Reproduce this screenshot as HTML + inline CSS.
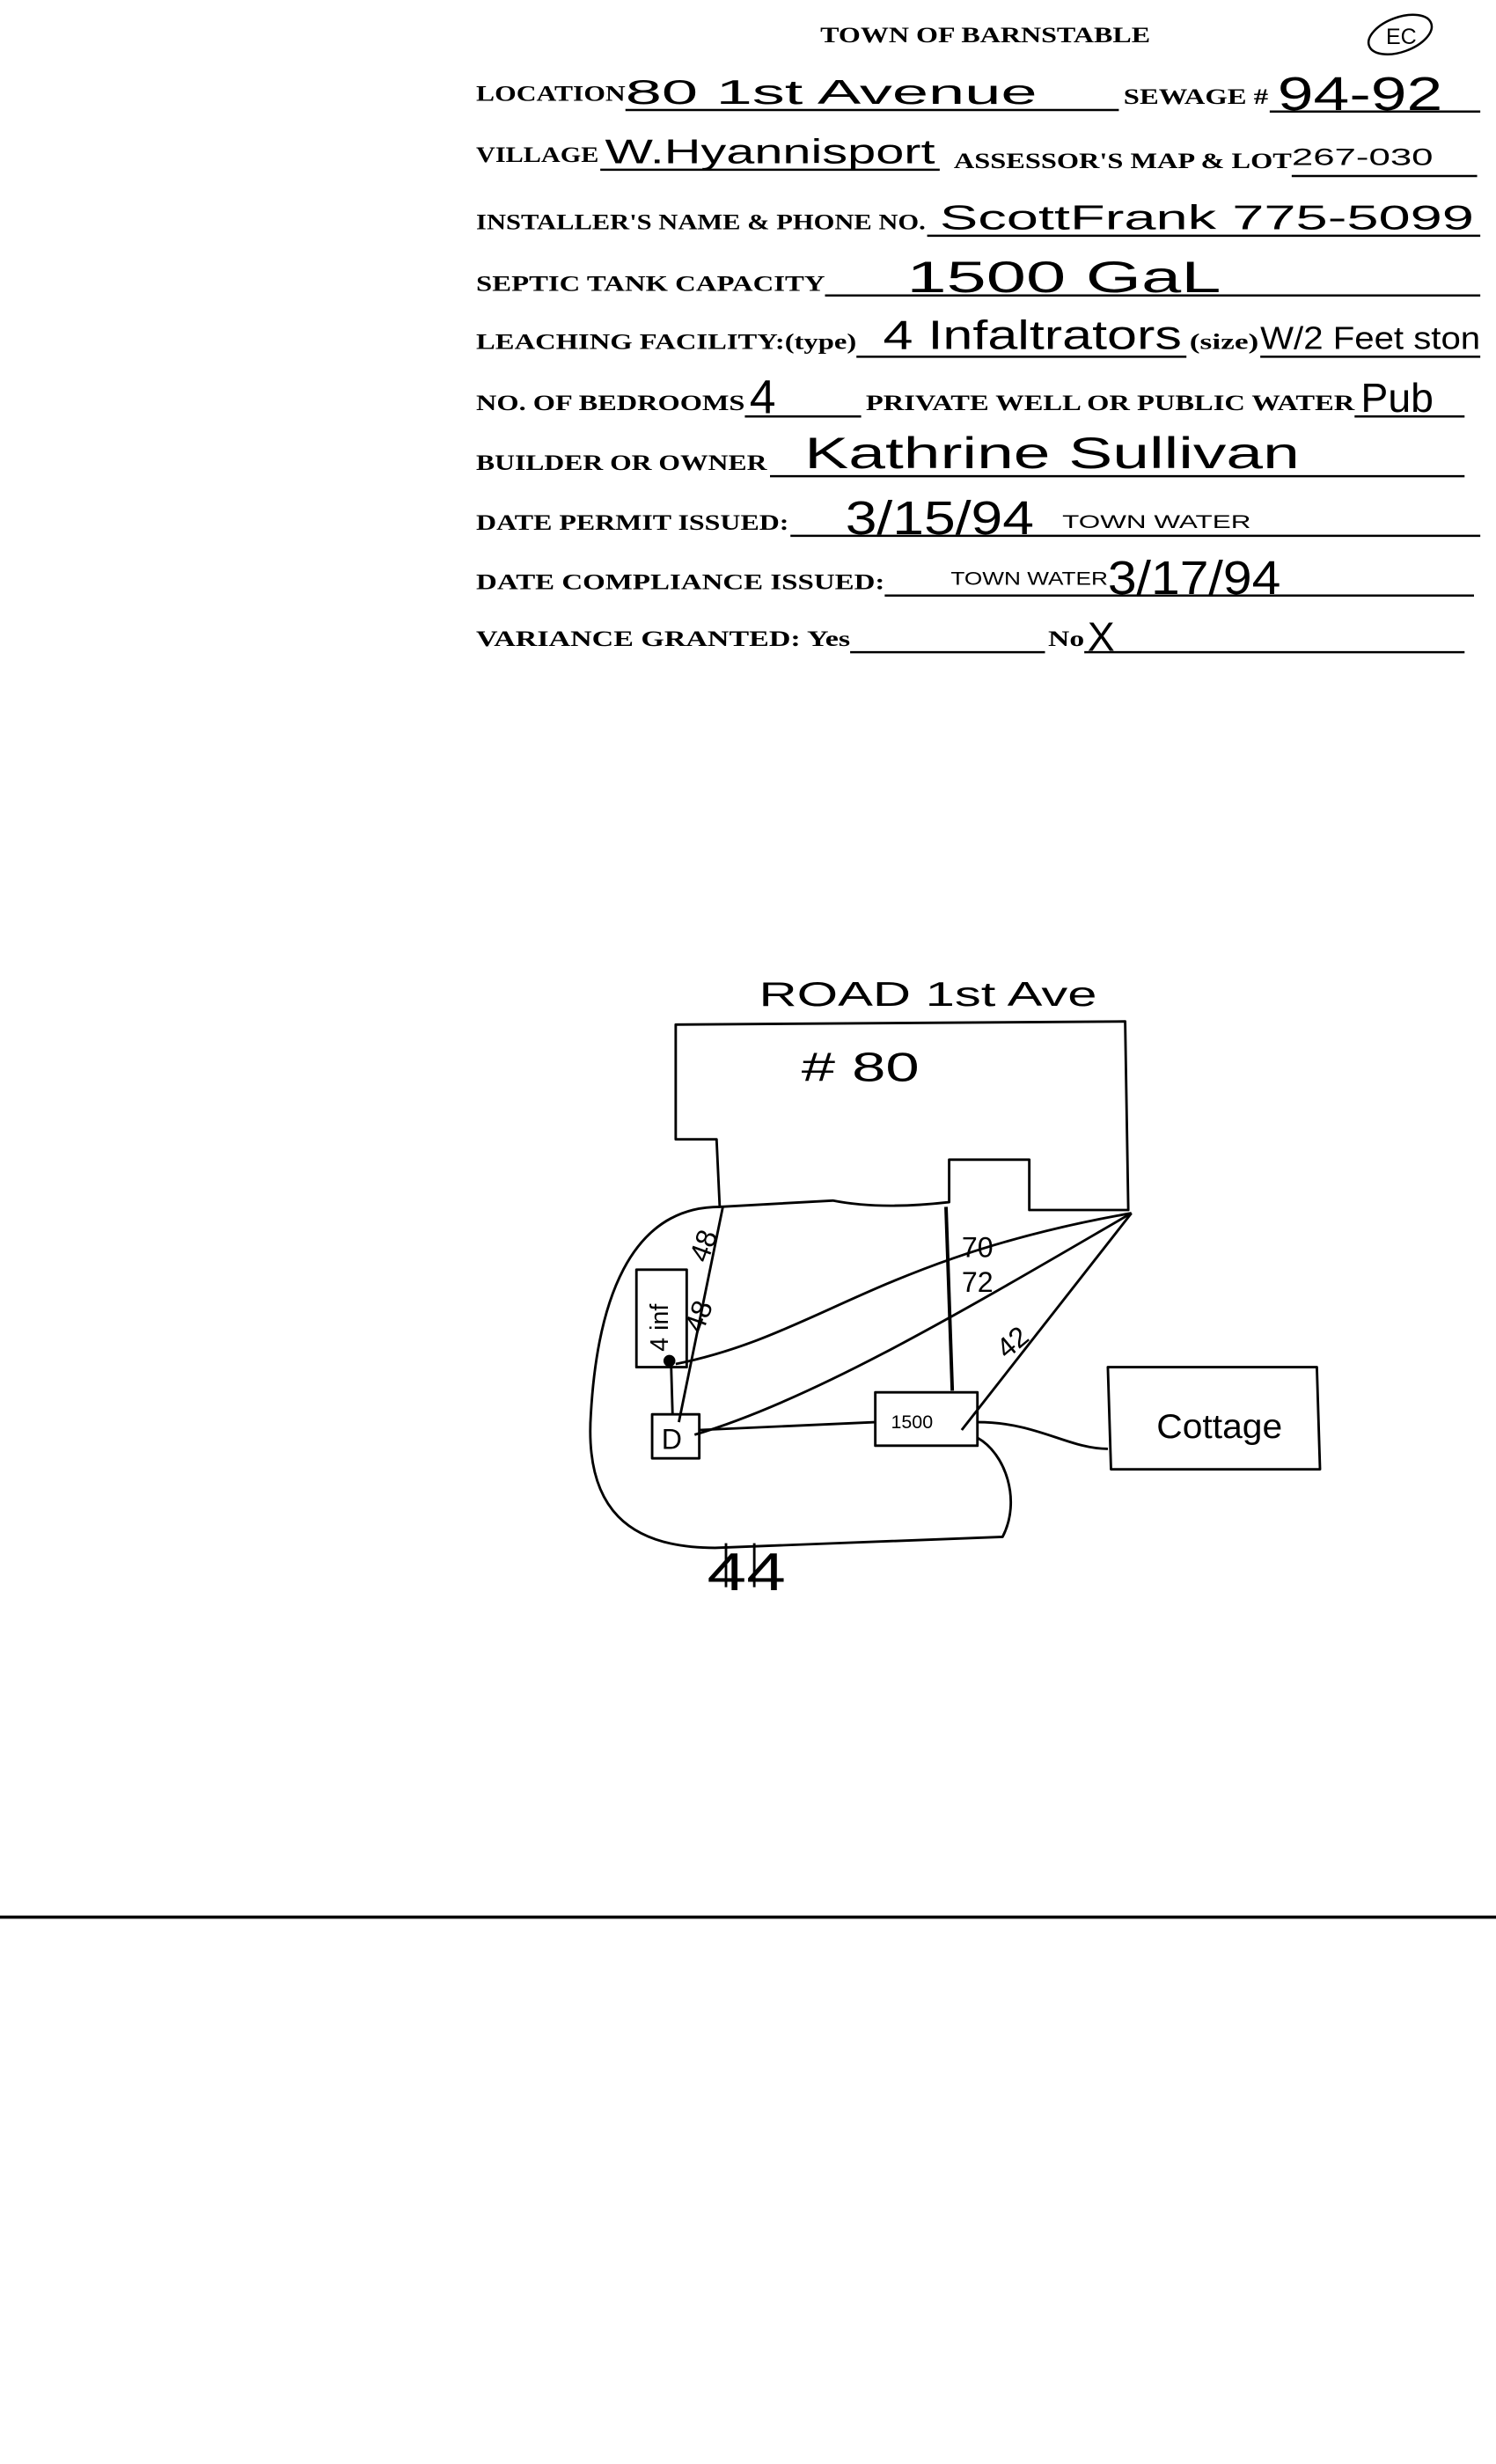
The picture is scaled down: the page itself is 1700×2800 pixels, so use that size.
<!DOCTYPE html>
<html><head><meta charset="utf-8"><style>
html,body{margin:0;padding:0;background:#fff;}
svg{display:block;}
.l{font-family:"Liberation Serif",serif;font-weight:bold;font-size:14px;fill:#000;}
.h{font-family:"Liberation Sans",sans-serif;fill:#000;}
</style></head><body>
<svg width="1700" height="2800" viewBox="0 0 952 1568" preserveAspectRatio="none" xmlns="http://www.w3.org/2000/svg">
<g class="l">
<text x="522" y="27" textLength="210" lengthAdjust="spacingAndGlyphs">TOWN OF BARNSTABLE</text>
<text x="303" y="64" textLength="95" lengthAdjust="spacingAndGlyphs">LOCATION</text>
<text x="715" y="66" textLength="92" lengthAdjust="spacingAndGlyphs">SEWAGE #</text>
<text x="303" y="103" textLength="78" lengthAdjust="spacingAndGlyphs">VILLAGE</text>
<text x="607" y="107" textLength="215" lengthAdjust="spacingAndGlyphs">ASSESSOR'S MAP &amp; LOT</text>
<text x="303" y="146" textLength="286" lengthAdjust="spacingAndGlyphs">INSTALLER'S NAME &amp; PHONE NO.</text>
<text x="303" y="185" textLength="222" lengthAdjust="spacingAndGlyphs">SEPTIC TANK CAPACITY</text>
<text x="303" y="222" textLength="242" lengthAdjust="spacingAndGlyphs">LEACHING FACILITY:(type)</text>
<text x="757" y="222" textLength="44" lengthAdjust="spacingAndGlyphs">(size)</text>
<text x="303" y="261" textLength="171" lengthAdjust="spacingAndGlyphs">NO. OF BEDROOMS</text>
<text x="551" y="261" textLength="311" lengthAdjust="spacingAndGlyphs">PRIVATE WELL OR PUBLIC WATER</text>
<text x="303" y="299" textLength="185" lengthAdjust="spacingAndGlyphs">BUILDER OR OWNER</text>
<text x="303" y="337" textLength="199" lengthAdjust="spacingAndGlyphs">DATE PERMIT ISSUED:</text>
<text x="303" y="375" textLength="260" lengthAdjust="spacingAndGlyphs">DATE   COMPLIANCE ISSUED:</text>
<text x="303" y="411" textLength="238" lengthAdjust="spacingAndGlyphs">VARIANCE GRANTED:  Yes</text>
<text x="667" y="411" textLength="23" lengthAdjust="spacingAndGlyphs">No</text>
</g>
<g stroke="#000" stroke-width="1.4" fill="none">
<line x1="398" y1="70" x2="712" y2="70"/><line x1="808" y1="71" x2="942" y2="71"/>
<line x1="382" y1="108" x2="598" y2="108"/><line x1="822" y1="112" x2="940" y2="112"/>
<line x1="590" y1="150" x2="942" y2="150"/>
<line x1="525" y1="188" x2="942" y2="188"/>
<line x1="545" y1="227" x2="755" y2="227"/><line x1="802" y1="227" x2="942" y2="227"/>
<line x1="474" y1="265" x2="548" y2="265"/><line x1="862" y1="265" x2="932" y2="265"/>
<line x1="490" y1="303" x2="932" y2="303"/>
<line x1="503" y1="341" x2="942" y2="341"/>
<line x1="563" y1="379" x2="938" y2="379"/>
<line x1="541" y1="415" x2="665" y2="415"/><line x1="690" y1="415" x2="932" y2="415"/>
<line x1="0" y1="1220" x2="952" y2="1220" stroke-width="2"/>
<ellipse cx="891" cy="22" rx="21" ry="11" transform="rotate(-20 891 22)"/>
</g>
<g class="h" font-size="22">
<text x="398" y="66" textLength="262" lengthAdjust="spacingAndGlyphs">80  1st Avenue</text>
<text x="813" y="70" font-size="30" textLength="105" lengthAdjust="spacingAndGlyphs">94-92</text>
<text x="385" y="104" textLength="210" lengthAdjust="spacingAndGlyphs">W.Hyannisport</text>
<text x="822" y="105" font-size="15" textLength="90" lengthAdjust="spacingAndGlyphs">267-030</text>
<text x="598" y="146" textLength="340" lengthAdjust="spacingAndGlyphs">ScottFrank   775-5099</text>
<text x="577" y="186" font-size="28" textLength="200" lengthAdjust="spacingAndGlyphs">1500 GaL</text>
<text x="562" y="222" font-size="26" textLength="190" lengthAdjust="spacingAndGlyphs">4 Infaltrators</text>
<text x="802" y="222" font-size="20" textLength="140" lengthAdjust="spacingAndGlyphs">W/2 Feet ston</text>
<text x="477" y="263" font-size="30">4</text>
<text x="866" y="262" font-size="26">Pub</text>
<text x="512" y="298" font-size="28" textLength="315" lengthAdjust="spacingAndGlyphs">Kathrine  Sullivan</text>
<text x="538" y="340" font-size="30" textLength="120" lengthAdjust="spacingAndGlyphs">3/15/94</text>
<text x="676" y="336" font-size="12" textLength="120" lengthAdjust="spacingAndGlyphs">TOWN WATER</text>
<text x="605" y="372" font-size="12" textLength="100" lengthAdjust="spacingAndGlyphs">TOWN WATER</text>
<text x="705" y="378" font-size="30" textLength="110" lengthAdjust="spacingAndGlyphs">3/17/94</text>
<text x="692" y="414" font-size="26">X</text>
<text x="882" y="28" font-size="14">EC</text>
<text x="483" y="640" textLength="215" lengthAdjust="spacingAndGlyphs">ROAD   1st Ave</text>
<text x="510" y="688" font-size="26" textLength="75" lengthAdjust="spacingAndGlyphs"># 80</text>
<text x="736" y="915" font-size="22" textLength="80" lengthAdjust="spacingAndGlyphs">Cottage</text>
<text x="567" y="909" font-size="12">1500</text>
<text x="421" y="922" font-size="18">D</text>
<text x="612" y="800" font-size="18">70</text>
<text x="612" y="822" font-size="18">72</text>
<text x="635" y="860" font-size="18" transform="rotate(-40 645 855)">42</text>
<text x="440" y="800" font-size="18" transform="rotate(-70 448 795)">48</text>
<text x="437" y="845" font-size="18" transform="rotate(-70 445 840)">48</text>
<text x="420" y="865" font-size="16" transform="rotate(-90 420 860)">4 inf</text>
<text x="450" y="1012" font-size="34" textLength="50" lengthAdjust="spacingAndGlyphs">44</text>
</g>
<g stroke="#000" stroke-width="1.6" fill="none" stroke-linejoin="round">
<path d="M430,652 L716,650 L718,770 L655,770 L655,738 L604,738 L604,765 Q560,770 530,764 L458,768 L456,725 L430,725 Z"/>
<path d="M458,768 C400,768 380,830 376,900 C372,960 400,985 455,985 L638,978 C650,955 640,925 622,915"/>
<line x1="602" y1="768" x2="606" y2="885" stroke-width="2.2"/>
<rect x="405" y="808" width="32" height="62"/>
<rect x="415" y="900" width="30" height="28"/>
<rect x="557" y="886" width="65" height="34"/>
<path d="M705,870 L838,870 L840,935 L707,935 Z"/>
<line x1="427" y1="866" x2="428" y2="900"/>
<circle cx="426" cy="866" r="3" fill="#000"/>
<path d="M432,905 L460,768"/>
<path d="M430,868 C520,850 560,800 720,772"/>
<path d="M442,913 C520,890 620,830 720,772"/>
<path d="M612,910 L720,772"/>
<path d="M445,910 L557,905"/>
<path d="M622,905 C660,905 680,922 705,922"/>
<path d="M462,982 L462,1010 M480,982 L480,1010"/>
</g>
</svg>
</body></html>
